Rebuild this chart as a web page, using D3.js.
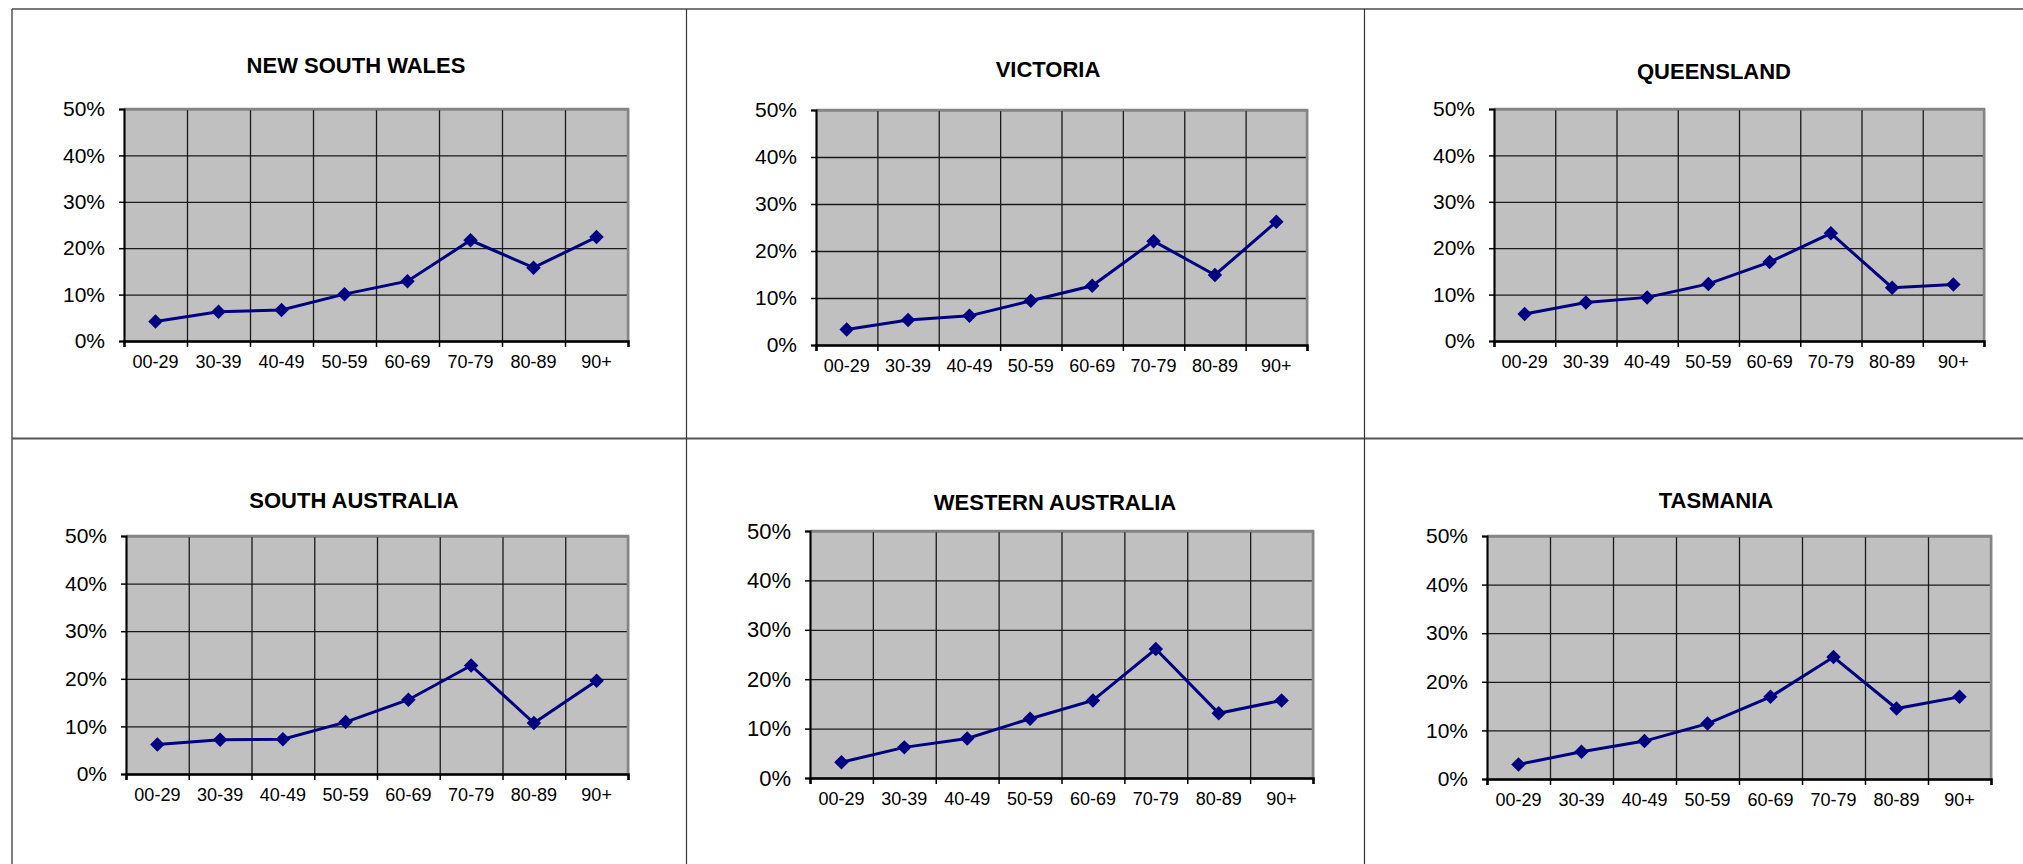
<!DOCTYPE html>
<html>
<head>
<meta charset="utf-8">
<script src="https://cdn.jsdelivr.net/npm/d3@7"></script>
<style>
  body { margin: 0; background: #fff; }
  svg { display: block; font-family: Arial, "Liberation Sans", sans-serif; }
</style>
</head>
<body>
<div id="main"></div>
<script>
// categories and values (percent)
const ageGroups = ["00-29", "30-39", "40-49", "50-59", "60-69", "70-79", "80-89", "90+"];
const states = ["NEW SOUTH WALES", "VICTORIA", "QUEENSLAND", "SOUTH AUSTRALIA", "WESTERN AUSTRALIA", "TASMANIA"];
const nswValues = [4.2, 6.3, 6.7, 10.1, 12.9, 21.7, 15.8, 22.4];
const vicValues = [3.3, 5.3, 6.2, 9.4, 12.6, 22.1, 14.9, 26.2];
const qldValues = [5.8, 8.3, 9.4, 12.3, 17.0, 23.2, 11.5, 12.2];
const saValues = [6.2, 7.2, 7.3, 10.9, 15.6, 22.8, 10.7, 19.6];
const waValues = [3.2, 6.2, 8.0, 12.0, 15.7, 26.1, 13.1, 15.7];
const tasValues = [3.0, 5.6, 7.8, 11.4, 16.9, 25.1, 14.5, 16.9];
const yTicks = [0, 10, 20, 30, 40, 50];

const seriesList = [nswValues, vicValues, qldValues, saValues, waValues, tasValues];

// where each chart sits on the page (plot box + title spot)
const frames = [
	{left: 124, right: 628, top: 109, bottom: 341, tx: 356, ty: 73, yFont: 21},
	{left: 816, right: 1307, top: 110, bottom: 345, tx: 1048, ty: 77, yFont: 21},
	{left: 1494, right: 1984, top: 109, bottom: 341, tx: 1714, ty: 79, yFont: 21},
	{left: 126, right: 628, top: 536, bottom: 774, tx: 354, ty: 508, yFont: 21},
	{left: 810, right: 1313, top: 531, bottom: 778, tx: 1055, ty: 510, yFont: 22},
	{left: 1487, right: 1991, top: 536, bottom: 779, tx: 1716, ty: 508, yFont: 21}
];

const W = 2023, H = 864;

let svg = d3.select("#main")
	.append("svg")
		.attr("width", W)
		.attr("height", H);

// page grid lines
const page = svg.append("g");
page.append("line").attr("x1", 12).attr("x2", W).attr("y1", 9).attr("y2", 9)
	.attr("stroke", "#7a7a7a").attr("stroke-width", 2);
page.append("line").attr("x1", 12).attr("x2", 12).attr("y1", 9).attr("y2", H)
	.attr("stroke", "#555").attr("stroke-width", 1.5);
page.append("line").attr("x1", 12).attr("x2", W).attr("y1", 438.5).attr("y2", 438.5)
	.attr("stroke", "#555").attr("stroke-width", 2);
[686.5, 1364.5].forEach(x => {
	page.append("line").attr("x1", x).attr("x2", x).attr("y1", 9).attr("y2", H)
		.attr("stroke", "#333").attr("stroke-width", 1.2);
});

const draw = (name, values, f) => {
	let g = svg.append("g");

	let x = d3.scaleBand()
		.domain(ageGroups)
		.range([f.left, f.right])
		.padding(0);
	let xEdge = d3.scaleLinear()
		.domain([0, ageGroups.length])
		.range([f.left, f.right]);
	let y = d3.scaleLinear()
		.domain([0, 50])
		.range([f.bottom, f.top]);

	// plot background
	g.append("rect")
		.attr("x", f.left).attr("y", f.top)
		.attr("width", f.right - f.left).attr("height", f.bottom - f.top)
		.attr("fill", "#c0c0c0");

	// horizontal grid
	g.append("g")
		.attr("transform", `translate(${f.left},0)`)
		.call(d3.axisLeft(y).tickValues(yTicks).tickSize(-(f.right - f.left)).tickFormat(""))
		.call(a => a.select(".domain").remove())
		.selectAll("line").attr("stroke", "#1a1a1a").attr("stroke-width", 1.3);

	// vertical grid at band edges
	g.append("g")
		.attr("transform", `translate(0,${f.bottom})`)
		.call(d3.axisBottom(xEdge).ticks(ageGroups.length).tickSize(-(f.bottom - f.top)).tickFormat(""))
		.call(a => a.select(".domain").remove())
		.selectAll("line").attr("stroke", "#1a1a1a").attr("stroke-width", 1.3);

	// grey frame top/right
	g.append("path")
		.attr("d", `M${f.left},${f.top}H${f.right}V${f.bottom}`)
		.attr("fill", "none").attr("stroke", "#858585").attr("stroke-width", 2.5);

	// y axis
	g.append("g")
		.attr("transform", `translate(${f.left},0)`)
		.call(d3.axisLeft(y).tickValues(yTicks).tickSize(5).tickPadding(14).tickFormat(d => d + "%"))
		.call(a => a.select(".domain").attr("stroke", "#000").attr("stroke-width", 2))
		.call(a => a.selectAll("line").attr("stroke", "#000").attr("stroke-width", 1.5))
		.call(a => a.selectAll("text").attr("fill", "#000").style("font-size", f.yFont + "px")
			.style("font-family", "Arial, 'Liberation Sans', sans-serif"));

	// x axis ticks at band edges
	g.append("g")
		.attr("transform", `translate(0,${f.bottom})`)
		.call(d3.axisBottom(xEdge).ticks(ageGroups.length).tickSize(6).tickFormat(""))
		.call(a => a.select(".domain").attr("stroke", "#000").attr("stroke-width", 2.5))
		.call(a => a.selectAll("line").attr("stroke", "#000").attr("stroke-width", 1.5));

	// x labels
	g.append("g")
		.attr("transform", `translate(0,${f.bottom})`)
		.call(d3.axisBottom(x).tickSize(0).tickPadding(14))
		.call(a => a.select(".domain").remove())
		.call(a => a.selectAll("text").attr("fill", "#000").style("font-size", "18px")
			.style("font-family", "Arial, 'Liberation Sans', sans-serif"));

	// title
	g.append("text")
		.attr("x", f.tx).attr("y", f.ty)
		.attr("text-anchor", "middle")
		.style("font-size", "22px")
		.style("font-weight", "bold")
		.text(name);

	const cx = d => x(d) + x.bandwidth() / 2;

	g.append("path")
		.datum(values)
		.attr("fill", "none")
		.attr("stroke", "#000080")
		.attr("stroke-width", 3)
		.attr("d", d3.line()
			.x((d, i) => cx(ageGroups[i]))
			.y(d => y(d)));

	g.append("g")
		.selectAll("path")
		.data(values)
		.enter()
		.append("path")
			.attr("d", d3.symbol(d3.symbolSquare, 105))
			.attr("transform", (d, i) => `translate(${cx(ageGroups[i])},${y(d)}) rotate(45)`)
			.attr("fill", "#000080");
};

states.forEach((s, i) => draw(s, seriesList[i], frames[i]));
</script>
</body>
</html>
